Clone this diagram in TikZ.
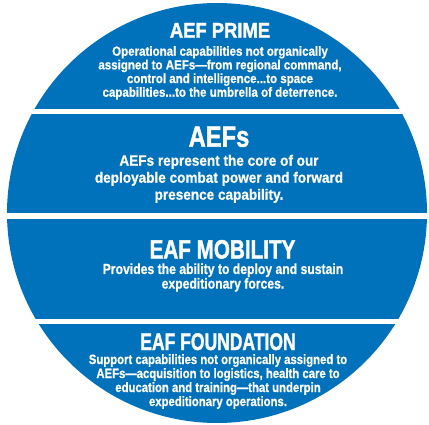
\documentclass[tikz,border=0pt]{standalone}
\usepackage{fontspec}
\usepackage{graphicx}
\setmainfont{Liberation Sans}[BoldFeatures={FakeBold=0.8}]
\newfontfamily\titlefont{Liberation Sans}[BoldFeatures={FakeBold=1.8}]
\definecolor{aefblue}{RGB}{0,114,188}
\newcommand{\bandtext}[4]{\scalebox{#1}[1]{\fontsize{#2}{#3}\selectfont\bfseries\begin{tabular}[t]{@{}c@{}}#4\end{tabular}}}
\newcommand{\bandtitle}[3]{\scalebox{#1}[1]{\titlefont\fontsize{#2}{8}\selectfont\bfseries\begin{tabular}[t]{@{}c@{}}#3\end{tabular}}}
\tikzset{
  bandfill/.style={fill=aefblue},
  txt/.style={text=white, inner sep=0pt, anchor=base},
}
\begin{document}
\begin{tikzpicture}[x=1pt,y=1pt]
\fill[white] (0,0) rectangle (429,424);
\useasboundingbox (0,0) rectangle (429,424);
\begin{scope}
\clip (217,211) circle[radius=210pt];
\fill[bandfill] (0,314.5) rectangle (429,424);
\fill[bandfill] (0,210.5) rectangle (429,309.5);
\fill[bandfill] (0,105) rectangle (429,205);
\fill[bandfill] (0,0) rectangle (429,100);
\end{scope}
% band 1
\node[txt] (t1) at (220,386.3) {\bandtitle{0.86}{21.4}{AEF PRIME}};
\node[txt] (b1) at (220,368.3) {\bandtext{0.875}{13.2}{13.67}{Operational capabilities not organically\\assigned to AEFs—from regional command,\\control and intelligence...to space\\capabilities...to the umbrella of deterrence.}};
% band 2
\node[txt] (t2) at (219,277.3) {\bandtitle{0.81}{29.3}{AEFs}};
\node[txt] (b2) at (219,258.3) {\bandtext{0.905}{15}{17}{AEFs represent the core of our\\deployable combat power and forward\\presence capability.}};
% band 3
\node[txt] (t3) at (222.5,165.5) {\bandtitle{0.78}{26.5}{EAF MOBILITY}};
\node[txt] (b3) at (223,150) {\bandtext{0.835}{14.6}{13.4}{Provides the ability to deploy and sustain\\expeditionary forces.}};
% band 4
\node[txt] (t4) at (218,74) {\bandtitle{0.73}{24}{EAF FOUNDATION}};
\node[txt] (b4) at (218,60) {\bandtext{0.84}{13.5}{14}{Support capabilities not organically assigned to\\AEFs—acquisition to logistics, health care to\\education and training—that underpin\\expeditionary operations.}};
\end{tikzpicture}
\end{document}
